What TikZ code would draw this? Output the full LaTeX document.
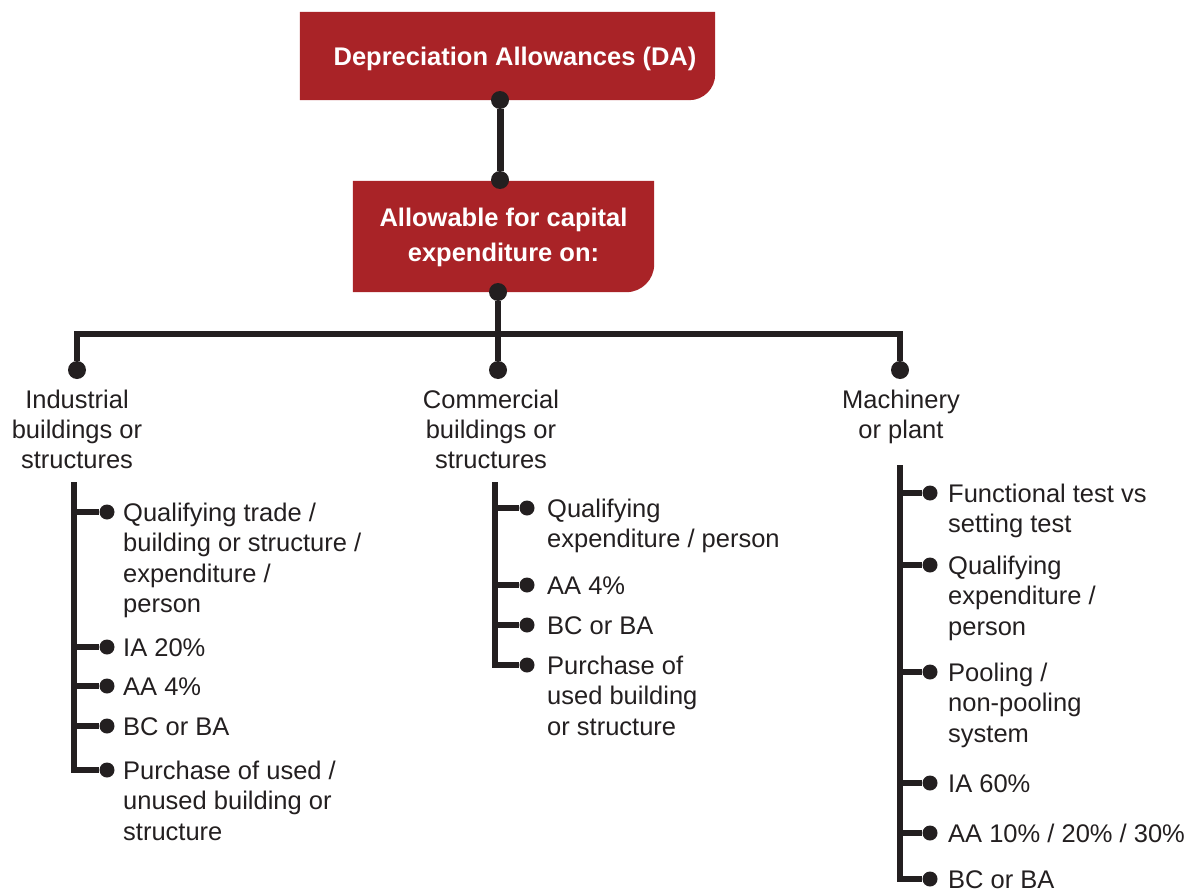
\documentclass[tikz,border=0pt]{standalone}
\usepackage{fontspec}
\setmainfont{Liberation Sans}
\usetikzlibrary{backgrounds}
\definecolor{boxred}{RGB}{169,35,39}
\definecolor{ink}{RGB}{35,31,32}
\newcommand\mlines[2][l]{\begin{tabular}[t]{@{}#1@{}}#2\end{tabular}}
\tikzset{
  conn/.style={line width=5.5pt, draw=ink},
  topconn/.style={line width=7pt, draw=ink},
  bigdot/.style={circle, fill=ink, inner sep=0pt, minimum size=18pt},
  smalldot/.style={circle, fill=ink, inner sep=0pt, minimum size=15pt},
  redbox/.style={rectangle, inner sep=0pt, text=white, align=center,
    font=\fontsize{25.5}{35}\selectfont\bfseries},
  cat/.style={anchor=base, inner sep=0pt, text=ink, font=\fontsize{25.5}{30}\selectfont},
  item/.style={anchor=base west, inner sep=0pt, text=ink, font=\fontsize{25.5}{30.5}\selectfont},
}
\begin{document}
\begin{tikzpicture}[x=1pt,y=-1pt]
\useasboundingbox (0,0) rectangle (1200,891);
% boxes
\node[redbox, minimum width=415pt, minimum height=88pt] (da) at (507.5,56)
  {\hspace*{15pt}\rule{0pt}{25pt}Depreciation Allowances (DA)};
\node[redbox, minimum width=301pt, minimum height=111pt] (cap) at (503.5,236.5)
  {\mlines[c]{Allowable for capital\\expenditure on:}};
\begin{pgfonlayer}{background}
\fill[boxred] (da.north west) -- (da.north east) -- ([yshift=26pt]da.south east)
  .. controls ([yshift=11.6pt]da.south east) and ([xshift=-11.6pt]da.south east)
  .. ([xshift=-26pt]da.south east) -- (da.south west) -- cycle;
\fill[boxred] (cap.north west) -- (cap.north east) -- ([yshift=28pt]cap.south east)
  .. controls ([yshift=12.5pt]cap.south east) and ([xshift=-12.5pt]cap.south east)
  .. ([xshift=-28pt]cap.south east) -- (cap.south west) -- cycle;
\end{pgfonlayer}
% top connector
\node[bigdot] (t1) at (500,100) {};
\node[bigdot] (t2) at (500,180) {};
\draw[topconn] (t1) -- (t2);
% bus
\node[bigdot] (b0) at (498,292) {};
\node[bigdot] (cI) at (77,370) {};
\node[bigdot] (cC) at (498,370) {};
\node[bigdot] (cM) at (900,370) {};
\coordinate (busL) at (77,334);
\coordinate (busR) at (900,334);
\draw[conn] (b0) -- (cC);
\draw[conn] (cI) -- (busL) -- (busR) -- (cM);
% category labels
\node[cat] (lI) at (77,408) {\mlines[c]{Industrial\\buildings or\\structures}};
\node[cat] (lC) at (491,408) {\mlines[c]{Commercial\\buildings or\\structures}};
\node[cat] (lM) at (901,408) {\mlines[c]{Machinery\\or plant}};
% left list
\coordinate (vI) at (74,482);
\node[smalldot] (i1) at (107,512) {};
\node[smalldot] (i2) at (107,647) {};
\node[smalldot] (i3) at (107,686) {};
\node[smalldot] (i4) at (107,726) {};
\node[smalldot] (i5) at (107,770) {};
\draw[conn] (vI) -- (vI |- i5) -- (i5);
\foreach \n in {i1,i2,i3,i4} \draw[conn] (vI |- \n) -- (\n);
\node[item] (ti1) at (123,521) {\mlines{Qualifying trade /\\building or structure /\\expenditure /\\person}};
\node[item] (ti2) at (123,656) {IA 20\%};
\node[item] (ti3) at (123,695) {AA 4\%};
\node[item] (ti4) at (123,735) {BC or BA};
\node[item] (ti5) at (123,779) {\mlines{Purchase of used /\\unused building or\\structure}};
% middle list
\coordinate (vC) at (495,482);
\node[smalldot] (c1) at (527,508) {};
\node[smalldot] (c2) at (527,585) {};
\node[smalldot] (c3) at (527,625) {};
\node[smalldot] (c4) at (527,665) {};
\draw[conn] (vC) -- (vC |- c4) -- (c4);
\foreach \n in {c1,c2,c3} \draw[conn] (vC |- \n) -- (\n);
\node[item] (tc1) at (547,517) {\mlines{Qualifying\\expenditure / person}};
\node[item] (tc2) at (547,594) {AA 4\%};
\node[item] (tc3) at (547,634) {BC or BA};
\node[item] (tc4) at (547,674) {\mlines{Purchase of\\used building\\or structure}};
% right list
\coordinate (vM) at (900,465);
\node[smalldot] (m1) at (930,493) {};
\node[smalldot] (m2) at (930,565) {};
\node[smalldot] (m3) at (930,672) {};
\node[smalldot] (m4) at (930,783) {};
\node[smalldot] (m5) at (930,833) {};
\node[smalldot] (m6) at (930,879) {};
\draw[conn] (vM) -- (vM |- m6) -- (m6);
\foreach \n in {m1,m2,m3,m4,m5} \draw[conn] (vM |- \n) -- (\n);
\node[item] (tm1) at (948,502) {\mlines{Functional test vs\\setting test}};
\node[item] (tm2) at (948,574) {\mlines{Qualifying\\expenditure /\\person}};
\node[item] (tm3) at (948,681) {\mlines{Pooling /\\non-pooling\\system}};
\node[item] (tm4) at (948,792) {IA 60\%};
\node[item] (tm5) at (948,842) {AA 10\% / 20\% / 30\%};
\node[item] (tm6) at (948,888) {BC or BA};
\end{tikzpicture}
\end{document}
